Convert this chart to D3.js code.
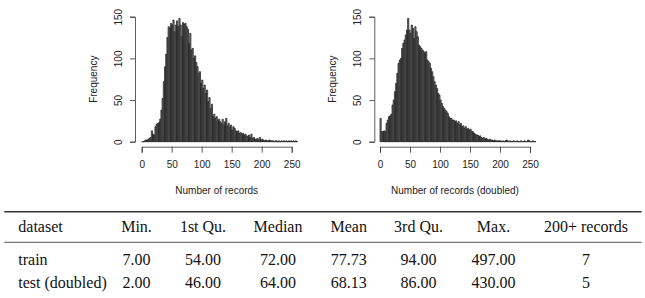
<!DOCTYPE html>
<html>
<head>
<meta charset="utf-8">
<script src="https://cdn.jsdelivr.net/npm/d3@7"></script>
<style>
  body { margin: 0; background: #fff; }
  svg { display: block; }
  .axis text, .lab { font-family: "Liberation Sans", Arial, sans-serif; font-size: 10px; fill: #222; }
  .axis path, .axis line { stroke: #333; stroke-width: 0.8; }
  .tbl { font-family: "Liberation Serif", "Times New Roman", serif; font-size: 16px; fill: #111; }
</style>
</head>
<body>
<script>
// histogram counts, bins of width 2 starting at 0
const BIN_WIDTH = 2;
const TRAIN_COUNTS = [
  0, 0, 1, 2, 2, 3, 4, 5, 13, 9,
  8, 18, 21, 22, 23, 27, 38, 52, 72, 90,
  105, 125, 138, 136, 142, 140, 146, 132, 140, 145,
  138, 148, 140, 126, 143, 141, 142, 138, 135, 118,
  130, 110, 112, 100, 103, 95, 90, 82, 84, 70,
  74, 64, 68, 58, 62, 48, 53, 40, 45, 30,
  33, 28, 30, 25, 27, 24, 22, 27, 20, 24,
  28, 19, 22, 17, 20, 14, 18, 16, 13, 12,
  13, 10, 11, 9, 10, 8, 9, 7, 6, 8,
  5, 9, 4, 5, 3, 3, 4, 2, 5, 2,
  3, 2, 1, 2, 1, 1, 2, 1, 1, 1,
  0, 1, 1, 0, 1, 0, 1, 0, 1, 0,
  1, 0, 1, 0, 1, 0, 1, 0, 1, 0
];
const TEST_COUNTS = [
  28, 12, 12, 13, 12, 22, 26, 30, 31, 33,
  44, 50, 60, 70, 82, 94, 98, 100, 112, 118,
  122, 128, 134, 148, 134, 130, 140, 136, 124, 138,
  132, 126, 116, 114, 112, 110, 108, 106, 108, 98,
  96, 94, 88, 84, 78, 72, 68, 64, 58, 56,
  50, 46, 42, 40, 38, 36, 34, 30, 28, 28,
  26, 26, 24, 25, 22, 24, 20, 22, 18, 19,
  16, 18, 15, 16, 14, 15, 12, 12, 10, 9,
  8, 8, 6, 7, 5, 4, 5, 3, 4, 3,
  2, 3, 2, 2, 1, 2, 1, 1, 1, 1,
  1, 0, 1, 0, 1, 2, 1, 0, 1, 0,
  0, 1, 0, 0, 1, 0, 0, 1, 0, 0,
  1, 0, 0, 2, 1, 0, 0, 1, 0, 0
];
const X_TICKS = [0, 50, 100, 150, 200, 250];
const Y_TICKS = [0, 50, 100, 150];
const X_LABELS = ["Number of records", "Number of records (doubled)"];
const Y_LABEL = "Frequency";

const TABLE_HEADER = ["dataset", "Min.", "1st Qu.", "Median", "Mean", "3rd Qu.", "Max.", "200+ records"];
const TABLE_ROWS = [
  ["train", "7.00", "54.00", "72.00", "77.73", "94.00", "497.00", "7"],
  ["test (doubled)", "2.00", "46.00", "64.00", "68.13", "86.00", "430.00", "5"]
];

const W = 645, H = 298;

const svg = d3.select("body").append("svg")
  .attr("width", W)
  .attr("height", H);

svg.append("rect").attr("width", W).attr("height", H).attr("fill", "#fff");

// panel placement
const panels = [
  { counts: TRAIN_COUNTS, xlab: X_LABELS[0], x0: 141.7, yAxisX: 135 },
  { counts: TEST_COUNTS, xlab: X_LABELS[1], x0: 380, yAxisX: 374.3 }
];
const Y_ZERO = 141.7, Y_TOP = 16.7, X_AXIS_Y = 146.7;

panels.forEach(function(p) {
  var x = d3.scaleLinear().domain([0, 250]).range([p.x0, p.x0 + 150]);
  var y = d3.scaleLinear().domain([0, 150]).range([Y_ZERO, Y_TOP]);

  // bars
  svg.append("g")
    .selectAll("path")
    .data(p.counts)
    .enter()
    .append("path")
    .attr("d", function(d, i) {
      var a = x(i * BIN_WIDTH), b = x((i + 1) * BIN_WIDTH);
      return "M" + a + "," + y(0) + "V" + y(d) + "H" + b + "V" + y(0) + "Z";
    })
    .attr("fill", "#8a8a8a")
    .attr("stroke", "#111")
    .attr("stroke-width", 0.7);

  // x axis
  var ax = svg.append("g")
    .attr("class", "axis")
    .attr("transform", "translate(0," + X_AXIS_Y + ")")
    .call(d3.axisBottom(x).tickValues(X_TICKS).tickSizeOuter(0).tickSize(6).tickPadding(8.5).tickFormat(d3.format("d")));

  // y axis
  var ay = svg.append("g")
    .attr("class", "axis")
    .attr("transform", "translate(" + p.yAxisX + ",0)")
    .call(d3.axisLeft(y).tickValues(Y_TICKS).tickSizeOuter(0).tickSize(5).tickFormat(d3.format("d")));

  // R style rotated y tick labels
  ay.selectAll(".tick text")
    .attr("x", 0)
    .attr("y", -13.5)
    .attr("dy", null)
    .attr("text-anchor", "middle")
    .attr("transform", "rotate(-90)");

  svg.append("text")
    .attr("class", "lab")
    .attr("x", (x(0) + x(250)) / 2)
    .attr("y", 193.5)
    .attr("text-anchor", "middle")
    .text(p.xlab);

  svg.append("text")
    .attr("class", "lab")
    .attr("text-anchor", "middle")
    .attr("transform", "translate(" + (p.yAxisX - 38.5) + "," + (Y_ZERO + Y_TOP) / 2 + ") rotate(-90)")
    .text(Y_LABEL);
});

// summary table
const COL_X = [18.3, 136.5, 203, 278, 348.7, 418.5, 493.5, 586];
const ROW_Y = [232.3, 265, 288.3];

svg.append("line")
  .attr("x1", 4.3).attr("x2", 641.7)
  .attr("y1", 211.7).attr("y2", 211.7)
  .attr("stroke", "#333").attr("stroke-width", 1.4);
svg.append("line")
  .attr("x1", 4.3).attr("x2", 641.7)
  .attr("y1", 242.3).attr("y2", 242.3)
  .attr("stroke", "#444").attr("stroke-width", 0.9);

const allRows = [TABLE_HEADER].concat(TABLE_ROWS);
const table = svg.append("g");
allRows.forEach(function(row, r) {
  table.append("g")
    .selectAll("text")
    .data(row)
    .enter()
    .append("text")
    .attr("class", "tbl")
    .attr("x", function(d, i) { return COL_X[i]; })
    .attr("y", ROW_Y[r])
    .attr("text-anchor", function(d, i) { return i === 0 ? "start" : "middle"; })
    .text(function(d) { return d; });
});
</script>
</body>
</html>
